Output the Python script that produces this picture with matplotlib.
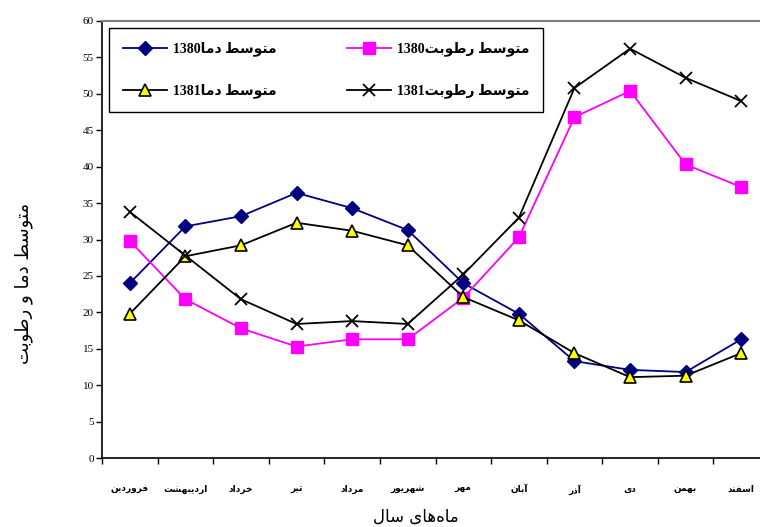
import re
import unicodedata
import matplotlib
matplotlib.use("Agg")
import matplotlib.pyplot as plt
from matplotlib.ticker import FixedLocator, NullFormatter

# ---------------- data ----------------
months = ["فروردین", "اردیبهشت", "خرداد", "تیر", "مرداد", "شهریور",
          "مهر", "آبان", "آذر", "دی", "بهمن", "اسفند"]
temp_1380 = [24.0, 31.8, 33.2, 36.4, 34.3, 31.3, 24.0, 19.8, 13.3, 12.1, 11.8, 16.3]
hum_1380 = [29.8, 21.8, 17.8, 15.3, 16.3, 16.3, 22.0, 30.3, 46.8, 50.4, 40.3, 37.2]
temp_1381 = [19.8, 27.7, 29.2, 32.3, 31.2, 29.2, 22.1, 18.9, 14.4, 11.1, 11.3, 14.4]
hum_1381 = [33.8, 27.8, 21.8, 18.4, 18.8, 18.4, 25.2, 33.0, 50.8, 56.2, 52.2, 49.0]
series_labels = ["متوسط دما1380", "متوسط رطوبت1380", "متوسط دما1381", "متوسط رطوبت1381"]
x_title = "ماه\u200cهای سال"
y_title = "متوسط دما و رطوبت"
y_ticks = list(range(0, 61, 5))

# ---------------- simple Arabic-script shaping + RTL ordering ----------------
FORMS = {
    '\u0627': ('\uFE8D', '\uFE8E', None, None),
    '\u0622': ('\uFE81', '\uFE82', None, None),
    '\u0628': ('\uFE8F', '\uFE90', '\uFE91', '\uFE92'),
    '\u062A': ('\uFE95', '\uFE96', '\uFE97', '\uFE98'),
    '\u062E': ('\uFEA5', '\uFEA6', '\uFEA7', '\uFEA8'),
    '\u062F': ('\uFEA9', '\uFEAA', None, None),
    '\u0630': ('\uFEAB', '\uFEAC', None, None),
    '\u0631': ('\uFEAD', '\uFEAE', None, None),
    '\u0633': ('\uFEB1', '\uFEB2', '\uFEB3', '\uFEB4'),
    '\u0634': ('\uFEB5', '\uFEB6', '\uFEB7', '\uFEB8'),
    '\u0637': ('\uFEC1', '\uFEC2', '\uFEC3', '\uFEC4'),
    '\u0641': ('\uFED1', '\uFED2', '\uFED3', '\uFED4'),
    '\u0644': ('\uFEDD', '\uFEDE', '\uFEDF', '\uFEE0'),
    '\u0645': ('\uFEE1', '\uFEE2', '\uFEE3', '\uFEE4'),
    '\u0646': ('\uFEE5', '\uFEE6', '\uFEE7', '\uFEE8'),
    '\u0647': ('\uFEE9', '\uFEEA', '\uFEEB', '\uFEEC'),
    '\u0648': ('\uFEED', '\uFEEE', None, None),
    '\u06CC': ('\uFEEF', '\uFEF0', '\uFEF3', '\uFEF4'),
    '\u064A': ('\uFEEF', '\uFEF0', '\uFEF3', '\uFEF4'),
}


def shape(s):
    s = unicodedata.normalize("NFC", s)
    out = []
    for i, c in enumerate(s):
        if c not in FORMS:
            if c != '\u200c':
                out.append(c)
            continue
        prev = s[i - 1] if i > 0 else None
        nxt = s[i + 1] if i + 1 < len(s) else None
        jp = prev in FORMS and FORMS[prev][2] is not None
        jn = FORMS[c][2] is not None and nxt in FORMS
        iso, fin, ini, med = FORMS[c]
        if jp and jn:
            out.append(med)
        elif jp:
            out.append(fin)
        elif jn:
            out.append(ini)
        else:
            out.append(iso)
    return ''.join(out)


def rtl(s):
    t = shape(s)
    runs = re.findall(r'[0-9]+|[^0-9]+', t)
    return ''.join(r if r[0].isdigit() else r[::-1] for r in reversed(runs))


# ---------------- figure ----------------
FAM = ['Liberation Serif', 'DejaVu Sans']
fig = plt.figure(figsize=(7.6, 5.27), dpi=100)
ax = fig.add_axes([102 / 760, 1 - 458 / 527, 667 / 760, 437 / 527])

x = list(range(len(months)))
lw = 1.3
ax.plot(x, temp_1380, color='#000080', lw=lw, marker='D', ms=7,
        mfc='#000080', mec='#000080', label=rtl(series_labels[0]), zorder=3)
ax.plot(x, hum_1380, color='#FF00FF', lw=lw, marker='s', ms=8,
        mfc='#FF00FF', mec='#FF00FF', label=rtl(series_labels[1]), zorder=3)
ax.plot(x, temp_1381, color='black', lw=lw, marker='^', ms=9,
        mfc='#FFFF00', mec='black', mew=1.2, label=rtl(series_labels[2]), zorder=3)
ax.plot(x, hum_1381, color='black', lw=lw, marker='x', ms=8,
        mec='black', mew=1.3, label=rtl(series_labels[3]), zorder=3)

ax.set_xlim(-0.5, len(months) - 0.5)
ax.set_ylim(0, 60)

# y axis
ax.yaxis.set_major_locator(FixedLocator(y_ticks))
ax.set_yticklabels([str(v) for v in y_ticks], family=FAM, fontsize=8)
ax.tick_params(axis='y', direction='out', length=4, width=1, pad=2, colors='black')

# x axis: labels at centers, ticks at boundaries
ax.xaxis.set_major_locator(FixedLocator(x))
ax.set_xticklabels([rtl(m) for m in months], fontsize=6.5, fontweight='bold',
                   family=['DejaVu Sans'])
ax.tick_params(axis='x', which='major', length=0, pad=19)
ax.xaxis.set_minor_locator(FixedLocator([i - 0.5 for i in x]))
ax.xaxis.set_minor_formatter(NullFormatter())
ax.tick_params(axis='x', which='minor', direction='out', length=4, width=1)

for side in ('left', 'bottom'):
    ax.spines[side].set_color('black')
    ax.spines[side].set_linewidth(1.2)
ax.spines['top'].set_color('#808080')
ax.spines['top'].set_linewidth(1.6)
ax.spines['right'].set_color('#808080')

# legend
handles, labels = ax.get_legend_handles_labels()
order = [0, 2, 1, 3]
leg = fig.legend([handles[i] for i in order], [labels[i] for i in order],
                 ncol=2, loc='upper left',
                 bbox_to_anchor=(109 / 760, 1 - 33 / 527, 434 / 760, 0.01),
                 mode='expand', borderaxespad=0, fancybox=False, shadow=False,
                 prop={'family': FAM, 'weight': 'bold', 'size': 10},
                 handlelength=3.2, handletextpad=0.4, borderpad=1.0,
                 labelspacing=1.95, columnspacing=3.0, framealpha=1)
leg.get_frame().set_edgecolor('black')
leg.get_frame().set_linewidth(1.0)

# axis titles
fig.text(416 / 760, 1 - 517 / 527, rtl(x_title), ha='center', va='center',
         fontsize=12, family=['DejaVu Sans'])
fig.text(24 / 760, 1 - 283 / 527, rtl(y_title), ha='center', va='center',
         rotation=90, fontsize=13, family=['DejaVu Sans'])

fig.savefig('out.png', dpi=100)
